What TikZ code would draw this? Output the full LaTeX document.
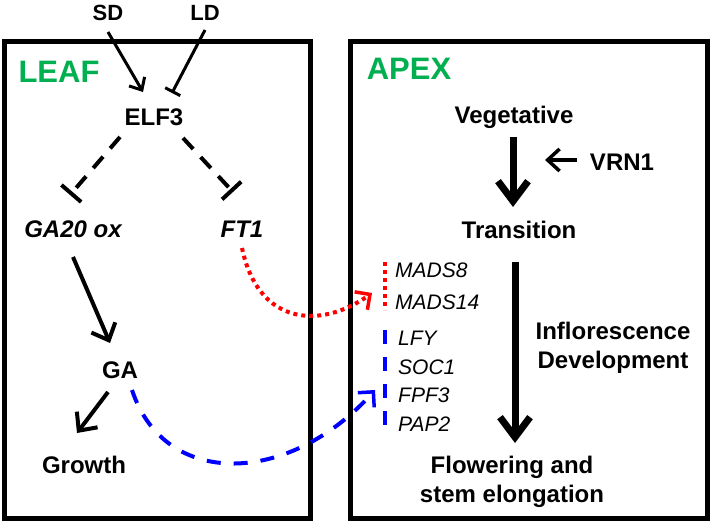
\documentclass[tikz,border=0pt]{standalone}
\usepackage{fontspec}
\setmainfont{Liberation Sans}
\usetikzlibrary{arrows.meta,calc}
\definecolor{leafgreen}{RGB}{0,176,80}
\begin{document}
\begin{tikzpicture}[x=1pt,y=-1pt,
  lbl/.style={font=\fontsize{24}{28}\selectfont\bfseries, inner sep=0pt},
  smalllbl/.style={font=\fontsize{22}{26}\selectfont\bfseries, inner sep=0pt},
  boxtitle/.style={font=\fontsize{31}{34}\selectfont\bfseries, text=leafgreen, inner sep=0pt},
  gene/.style={font=\fontsize{21}{24}\selectfont\itshape, inner sep=0pt, anchor=west},
  bgene/.style={font=\fontsize{24}{28}\selectfont\bfseries\itshape, inner sep=0pt},
  panel/.style={draw, line width=5pt},
  thinarr/.style={line width=3pt, -{Straight Barb[length=10pt,width=18pt]}},
  thinbar/.style={line width=3pt, -{Bar[width=17pt]}},
  dashbar/.style={line width=4pt, dash pattern=on 15pt off 11pt, -{Bar[width=26pt]}},
  medarr/.style={line width=4pt, -{Straight Barb[length=14pt,width=26pt]}},
  bigarr/.style={line width=7pt, -{Straight Barb[length=20pt,width=30pt]}},
  reddot/.style={red, line width=4pt, dash pattern=on 4pt off 4pt},
  bluedash/.style={blue, line width=4pt, dash pattern=on 14pt off 13pt},
  redarr/.style={reddot, -{Straight Barb[length=11pt,width=22pt,line width=3.5pt]}},
  bluearr/.style={bluedash, -{Straight Barb[length=11pt,width=22pt,line width=3.5pt]}}
]
\fill[white] (0,0) rectangle (717,526);
\useasboundingbox (0,0) rectangle (717,526);

% panels
\draw[panel] (4,42) rectangle (310,518);
\draw[panel] (350,42) rectangle (707,518);
\node[boxtitle] (leaf) at (59,72) {LEAF};
\node[boxtitle] (apex) at (409,69) {APEX};

% leaf nodes
\node[smalllbl] (SD) at (108,13) {SD};
\node[smalllbl] (LD) at (205,13) {LD};
\node[lbl] (ELF3) at (154,117) {ELF3};
\node[bgene] (GA20) at (73,229) {GA20 ox};
\node[bgene] (FT1) at (242,229) {FT1};
\node[lbl] (GA) at (120,370) {GA};
\node[lbl] (growth) at (84,465) {Growth};

% apex nodes
\node[lbl] (veg) at (514,117) {Vegetative};
\node[lbl] (trans) at (519,230) {Transition};
\node[lbl] (VRN1) at (622,162) {VRN1};
\node[lbl, align=center] (infl) at (613,348) {Inflorescence\\[1pt]Development};
\node[lbl, align=center] (flow) at (512,482) {Flowering and\\[1pt]stem elongation};

\node[gene] (MADS8) at (395,270) {MADS8};
\node[gene] (MADS14) at (395,302) {MADS14};
\node[gene] (LFY) at (398,338) {LFY};
\node[gene] (SOC1) at (398,367) {SOC1};
\node[gene] (FPF3) at (398,395) {FPF3};
\node[gene] (PAP2) at (398,424) {PAP2};

% leaf connectors
\draw[thinarr] ($(SD.center)+(0,19)$) -- ($(ELF3.center)+(-11,-25)$);
\draw[thinbar] ($(LD.center)+(0,17)$) -- ($(ELF3.center)+(18,-24)$);
\draw[dashbar] ($(ELF3.center)+(-34,20)$) -- ($(GA20.center)+(-3,-34)$);
\draw[dashbar] ($(ELF3.center)+(29,21)$) -- ($(FT1.center)+(-9,-37)$);
\draw[medarr] ($(GA20.center)+(0,28)$) -- ($(GA.center)+(-10,-27)$);
\draw[medarr] ($(GA.center)+(-12,22)$) -- ($(growth.center)+(-7,-32)$);

% apex connectors
\draw[bigarr] ($(veg.center)+(-1,20)$) -- ($(trans.center)+(-6,-23)$);
\draw[line width=3.5pt, -{Straight Barb[length=12pt,width=22pt]}] ($(VRN1.center)+(-45,-2)$) -- ($(VRN1.center)+(-77,-2)$);
\draw[bigarr] ($(trans.center)+(-4,32)$) -- ($(trans.center)+(-4,213)$);

% gene brackets
\draw[reddot] ($(MADS8.west)+(-10,-8)$) -- ($(MADS14.west)+(-10,8)$);
\draw[bluedash] ($(LFY.west)+(-13,-8)$) -- ($(PAP2.west)+(-13,6)$);

% cross-panel curves
\draw[redarr] ($(FT1.center)+(0,19)$) .. controls (258,325) and (320,330) .. ($(MADS14.west)+(-23,-9)$);
\draw[bluearr] ($(GA.center)+(12,20)$) .. controls (165,490) and (290,485) .. ($(FPF3.west)+(-23,-5)$);
\end{tikzpicture}
\end{document}
